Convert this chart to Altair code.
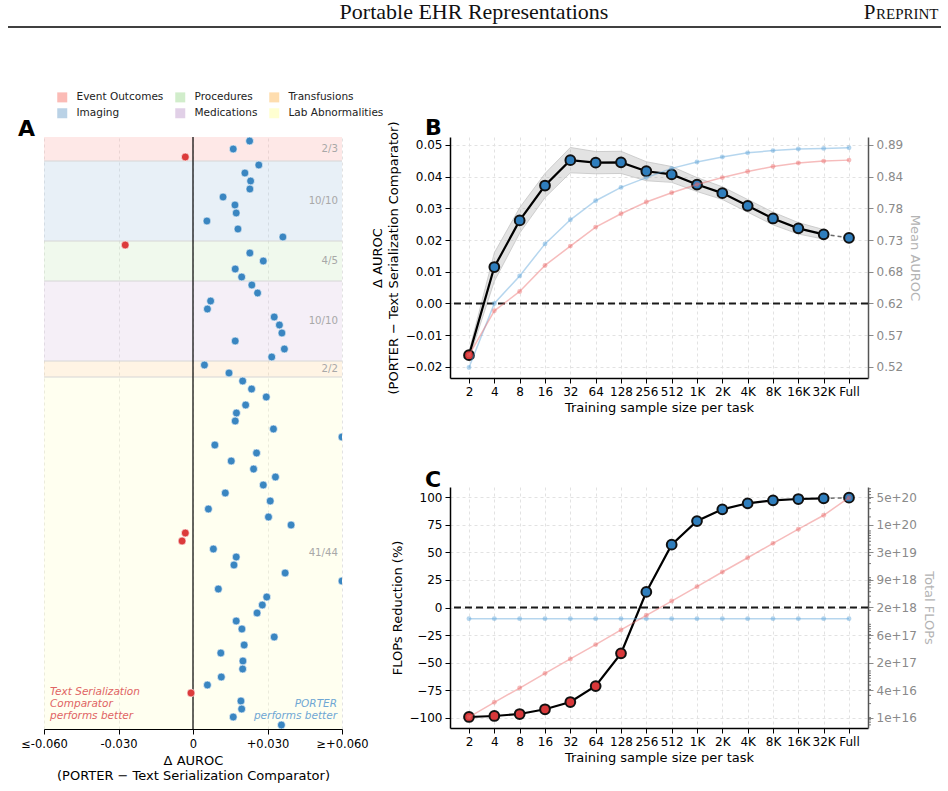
import altair as alt
import pandas as pd

FONT = "DejaVu Sans"

# ---------------- Panel A: per-task delta AUROC by category ----------------
categories = ["Event Outcomes", "Imaging", "Procedures", "Medications",
              "Transfusions", "Lab Abnormalities"]
category_colors = ["#fbb4ae", "#b3cde3", "#ccebc5", "#decbe4", "#fed9a6", "#ffffcc"]

delta_event_outcomes = [0.0228, 0.0162, -0.0031]
delta_imaging = [0.0265, 0.0209, 0.0232, 0.0229, 0.0121, 0.0169, 0.0174, 0.0056,
                 0.0181, 0.0362]
delta_procedures = [-0.0273, 0.0229, 0.0283, 0.0170, 0.0196]
delta_medications = [0.0237, 0.0260, 0.0071, 0.0058, 0.0327, 0.0348, 0.0358, 0.0170,
                     0.0368, 0.0317]
delta_transfusions = [0.0046, 0.0145]
delta_lab = [0.0200, 0.0236, 0.0295, 0.0212, 0.0175, 0.0170, 0.0324, 0.0720, 0.0088,
             0.0256, 0.0154, 0.0244, 0.0332, 0.0283, 0.0130, 0.0311, 0.0062, 0.0304,
             0.0395, -0.0031, -0.0044, 0.0082, 0.0174, 0.0165, 0.0371, 0.0680, 0.0102,
             0.0297, 0.0279, 0.0258, 0.0174, 0.0197, 0.0327, 0.0206, 0.0112, 0.0201,
             0.0200, 0.0114, 0.0058, -0.0008, 0.0193, 0.0196, 0.0162, 0.0356]
category_deltas = [delta_event_outcomes, delta_imaging, delta_procedures,
                   delta_medications, delta_transfusions, delta_lab]

a_ticks = [-0.06, -0.03, 0.0, 0.03, 0.06]
a_tick_labels = ["≤-0.060", "-0.030", "0", "+0.030", "≥+0.060"]

# ---------------- Panels B and C: sample-size sweep ----------------
sample_sizes = ["2", "4", "8", "16", "32", "64", "128", "256", "512",
                "1K", "2K", "4K", "8K", "16K", "32K", "Full"]
delta_auroc = [-0.0163, 0.0115, 0.0262, 0.0372, 0.0452, 0.0444, 0.0445, 0.0417,
               0.0407, 0.0375, 0.0348, 0.0308, 0.0268, 0.0237, 0.0218, 0.0207]
delta_auroc_lower = [-0.0175, 0.0070, 0.0222, 0.0334, 0.0412, 0.0409, 0.0410, 0.0387,
                     0.0382, 0.0353, 0.0328, 0.0288, 0.0248, 0.0219, 0.0203]
delta_auroc_upper = [-0.0151, 0.0160, 0.0302, 0.0410, 0.0492, 0.0479, 0.0480, 0.0447,
                     0.0432, 0.0397, 0.0368, 0.0328, 0.0288, 0.0255, 0.0233]
porter_mean_auroc = [0.5164, 0.6235, 0.6696, 0.7231, 0.7634, 0.7952, 0.8175, 0.8339,
                     0.8493, 0.8599, 0.8684, 0.8753, 0.8790, 0.8816, 0.8827, 0.8837]
text_mean_auroc = [0.5371, 0.6113, 0.6436, 0.6871, 0.7194, 0.7512, 0.7735, 0.7931,
                   0.8085, 0.8223, 0.8339, 0.8440, 0.8525, 0.8583, 0.8615, 0.8631]

flops_reduction = [-99.4, -98.5, -96.7, -92.4, -85.8, -71.3, -41.6, 14.1,
                   57.0, 78.5, 89.1, 94.6, 97.3, 98.5, 99.1, 99.7]
porter_total_flops = [1.32e18, 1.32e18, 1.32e18, 1.32e18, 1.32e18, 1.32e18, 1.32e18,
                      1.32e18, 1.32e18, 1.32e18, 1.32e18, 1.32e18, 1.32e18, 1.32e18,
                      1.32e18, 1.32e18]
text_total_flops = [1.03e16, 2.13e16, 4.31e16, 8.89e16, 1.81e17, 3.67e17, 7.57e17,
                    1.56e18, 3.15e18, 6.40e18, 1.32e19, 2.67e19, 5.42e19, 1.09e20,
                    2.17e20, 5.16e20]

# twin-axis alignment: mean AUROC = AUROC_0 + AUROC_SLOPE * delta
AUROC_0, AUROC_SLOPE = 0.6235, 5.3
b_left_ticks = [-0.02, -0.01, 0.0, 0.01, 0.02, 0.03, 0.04, 0.05]
b_domain = [-0.0235, 0.0525]
# twin-axis alignment: log10(FLOPs) = LOG_0 + LOG_SLOPE * (reduction + 100)
LOG_0, LOG_SLOPE = 16.0, 0.0236
c_left_ticks = [-100, -75, -50, -25, 0, 25, 50, 75, 100]
c_domain = [-109.4, 109.4]

BLUE_A, RED_A = "#3a86c1", "#dc3b3b"
BLUE, RED = "#2f7ebd", "#d8383a"
FAINT_BLUE, FAINT_RED = "#5da3d9", "#ea6a6a"
GRID = "#e2e2e2"

# ======================= Panel A =======================
WA, HA = 298, 592
task_rows, band_rows = [], []
start = 0
for cat, vals in zip(categories, category_deltas):
    for i, v in enumerate(vals):
        task_rows.append({"category": cat, "row": start + i + 0.5, "delta": v})
    n_better = sum(1 for v in vals if v > 0)
    band_rows.append({"category": cat, "top": start, "bottom": start + len(vals),
                      "mid": start + len(vals) / 2, "label": f"{n_better}/{len(vals)}"})
    start += len(vals)
n_rows = start
tasks_df = pd.DataFrame(task_rows)
bands_df = pd.DataFrame(band_rows)
one = pd.DataFrame({"k": [0]})

yA = alt.Scale(domain=[0, n_rows], reverse=True, nice=False, zero=False)
xA = alt.Scale(domain=[a_ticks[0], a_ticks[-1]], clamp=True, nice=False, zero=False)

label_expr = "''"
for v, lab in reversed(list(zip(a_ticks, a_tick_labels))):
    label_expr = f"abs(datum.value - ({v})) < 1e-9 ? '{lab}' : ({label_expr})"

axisA = alt.Axis(values=a_ticks, labelExpr=label_expr, labelFlush=False,
                 title=["Δ AUROC", "(PORTER − Text Serialization Comparator)"],
                 grid=True, gridDash=[3, 3], gridColor=GRID, domainColor="black",
                 domainWidth=1.2, tickColor="black", tickSize=5, labelFontSize=11.5,
                 titleFontSize=13, titleLineHeight=15, labelPadding=4, titlePadding=5)

canvas = alt.Chart(one).mark_rect(opacity=0).encode(
    x=alt.value(-44), x2=alt.value(904), y=alt.value(-137), y2=alt.value(654))

bands = alt.Chart(bands_df).mark_rect(opacity=0.3).encode(
    x=alt.value(0), x2=alt.value(WA),
    y=alt.Y("top:Q", scale=yA, axis=None), y2="bottom:Q",
    color=alt.Color("category:N",
                    scale=alt.Scale(domain=categories, range=category_colors),
                    legend=alt.Legend(orient="none", legendX=13, legendY=-45, columns=3,
                                      title=None, symbolType="square", symbolSize=100,
                                      symbolOpacity=0.9, symbolStrokeWidth=0,
                                      labelFontSize=10.5, labelFont=FONT,
                                      labelColor="#222", columnPadding=11, rowPadding=5,
                                      labelOffset=9, padding=0)))

separators = alt.Chart(bands_df).transform_filter("datum.top > 0").mark_rule(
    color="#d6d6d6", strokeWidth=1).encode(
    x=alt.value(0), x2=alt.value(WA), y=alt.Y("top:Q", scale=yA, axis=None))

zero_a = alt.Chart(one).mark_rule(color="black", strokeWidth=1.2).encode(
    x=alt.X(datum=0, scale=xA, axis=axisA))

points_a = alt.Chart(tasks_df).mark_circle(size=62, opacity=1, stroke="white",
                                           strokeWidth=0.6, clip=True).encode(
    x=alt.X("delta:Q", scale=xA, axis=axisA),
    y=alt.Y("row:Q", scale=yA, axis=None),
    color=alt.condition("datum.delta < 0", alt.value(RED_A), alt.value(BLUE_A)))

band_labels = alt.Chart(bands_df).mark_text(align="right", baseline="middle",
                                            fontSize=10.2, color="#a8a8a8", font=FONT).encode(
    x=alt.value(WA - 4), y=alt.Y("mid:Q", scale=yA, axis=None), text="label:N")

note_left = alt.Chart(one).mark_text(
    align="left", baseline="middle", fontSize=10.5, fontStyle="italic", font=FONT,
    color="#e06464", lineBreak="\n", lineHeight=11.8).encode(
    x=alt.value(6), y=alt.value(555),
    text=alt.value("Text Serialization\nComparator\nperforms better"))
note_right = alt.Chart(one).mark_text(
    align="right", baseline="middle", fontSize=10.5, fontStyle="italic", font=FONT,
    color="#6fa7d4", lineBreak="\n", lineHeight=11.8).encode(
    x=alt.value(293), y=alt.value(567),
    text=alt.value("PORTER\nperforms better"))

letter_a = alt.Chart(one).mark_text(align="left", baseline="alphabetic", fontSize=22,
                                    fontWeight="bold", font=FONT, color="black").encode(
    x=alt.value(-26), y=alt.value(-1), text=alt.value("A"))

# running page header
header_title = alt.Chart(one).mark_text(align="center", baseline="alphabetic",
                                        fontSize=22, font="Liberation Serif",
                                        color="#111").encode(
    x=alt.value(430), y=alt.value(-118), text=alt.value("Portable EHR Representations"))
header_p = alt.Chart(one).mark_text(align="right", baseline="alphabetic", fontSize=21,
                                    font="Liberation Serif", color="#111").encode(
    x=alt.value(831.5), y=alt.value(-118), text=alt.value("P"))
header_rest = alt.Chart(one).mark_text(align="left", baseline="alphabetic", fontSize=15,
                                       font="Liberation Serif", color="#111").encode(
    x=alt.value(832), y=alt.value(-118), text=alt.value("REPRINT"))
header_rule = alt.Chart(one).mark_rule(color="black", strokeWidth=1.3).encode(
    x=alt.value(-36), x2=alt.value(897), y=alt.value(-110))

panel_a = alt.layer(canvas, bands, separators, zero_a, points_a, band_labels,
                    note_left, note_right, letter_a, header_title, header_p,
                    header_rest, header_rule).properties(width=WA, height=HA)

# ======================= Panels B and C =======================
WB, HB = 418, 241
x_scale = alt.Scale(type="point", domain=sample_sizes, padding=0.75)
axis_x = alt.Axis(title="Training sample size per task", labelAngle=0, grid=True,
                  gridDash=[3, 3], gridColor=GRID, tickColor="black", domainColor="black",
                  domainWidth=1.5, tickSize=5, labelFontSize=12, titleFontSize=13,
                  labelPadding=3, titlePadding=4, labelOverlap=False)


def x_enc():
    return alt.X("size:N", scale=x_scale, axis=axis_x)


def sweep_df(**cols):
    d = pd.DataFrame({"size": sample_sizes[:len(next(iter(cols.values())))], **cols})
    d["idx"] = range(len(d))
    return d


def left_axis(values, fmt, title):
    return alt.Axis(values=values, format=fmt, title=title, orient="left", grid=True,
                    gridDash=[3, 3], gridColor=GRID, tickColor="black",
                    domainColor="black", domainWidth=1.5, tickSize=5, labelFontSize=12,
                    titleFontSize=13, titleLineHeight=16, labelPadding=3, titlePadding=5)


def right_axis(values, fmt, title):
    return alt.Axis(values=values, format=fmt, title=title, orient="right", grid=False,
                    tickColor="#8a8a8a", domainColor="#555555", domainWidth=1.5,
                    tickSize=5, labelColor="#8a8a8a", labelFontSize=12,
                    titleColor="#b3b3b3", titleFontSize=13, labelPadding=3,
                    titlePadding=5)


def main_series(df, field, y_scale, y_axis):
    y = alt.Y(f"{field}:Q", scale=y_scale, axis=y_axis)
    solid = alt.Chart(df).transform_filter(f"datum.idx <= {len(sample_sizes) - 2}").mark_line(
        color="black", strokeWidth=2.2).encode(x=x_enc(), y=y)
    tail = alt.Chart(df).transform_filter(f"datum.idx >= {len(sample_sizes) - 2}").mark_line(
        color="#6a6a6a", strokeWidth=1.5, strokeDash=[4, 3]).encode(x=x_enc(), y=y)
    pts = alt.Chart(df).mark_circle(size=95, opacity=1, stroke="#111111",
                                    strokeWidth=2).encode(
        x=x_enc(), y=y,
        fill=alt.condition(f"datum.{field} < 0", alt.value(RED), alt.value(BLUE)))
    return solid, tail, pts


def faint_series(df, field, y_scale, y_axis, color):
    y = alt.Y(f"{field}:Q", scale=y_scale, axis=y_axis)
    line = alt.Chart(df).mark_line(color=color, strokeWidth=1.5, opacity=0.45).encode(
        x=x_enc(), y=y)
    pts = alt.Chart(df).mark_circle(color=color, size=24, opacity=0.45).encode(
        x=x_enc(), y=y)
    return line, pts


def panel_letter(letter, y):
    return alt.Chart(one).mark_text(align="left", baseline="alphabetic", fontSize=22,
                                    fontWeight="bold", font=FONT, color="black").encode(
        x=alt.value(-25), y=alt.value(y), text=alt.value(letter))


# ---- Panel B ----
yBL = alt.Scale(domain=b_domain, nice=False, zero=False)
yBR = alt.Scale(domain=[AUROC_0 + AUROC_SLOPE * b_domain[0],
                        AUROC_0 + AUROC_SLOPE * b_domain[1]], nice=False, zero=False)
axisBL = left_axis(b_left_ticks, ".2f",
                   ["Δ AUROC", "(PORTER − Text Serialization Comparator)"])
axisBR = right_axis([AUROC_0 + AUROC_SLOPE * v for v in b_left_ticks], ".2f",
                    "Mean AUROC")

b_main = sweep_df(delta=delta_auroc)
b_ci = sweep_df(lower=delta_auroc_lower, upper=delta_auroc_upper)
b_porter = sweep_df(auroc=porter_mean_auroc)
b_text = sweep_df(auroc=text_mean_auroc)

ci_area = alt.Chart(b_ci).mark_area(color="#9a9a9a", opacity=0.28).encode(
    x=x_enc(), y=alt.Y("lower:Q", scale=yBL, axis=axisBL), y2="upper:Q")
ci_hi = alt.Chart(b_ci).mark_line(color="#c4c4c4", strokeWidth=0.8).encode(
    x=x_enc(), y=alt.Y("upper:Q", scale=yBL, axis=axisBL))
ci_lo = alt.Chart(b_ci).mark_line(color="#c4c4c4", strokeWidth=0.8).encode(
    x=x_enc(), y=alt.Y("lower:Q", scale=yBL, axis=axisBL))
zero_b = alt.Chart(one).mark_rule(color="#1a1a1a", strokeWidth=2,
                                  strokeDash=[7, 4]).encode(
    y=alt.Y(datum=0, scale=yBL, axis=axisBL))
b_solid, b_tail, b_pts = main_series(b_main, "delta", yBL, axisBL)
b_left = alt.layer(ci_area, ci_hi, ci_lo, zero_b, b_solid, b_tail, b_pts,
                   panel_letter("B", -2))
bp_line, bp_pts = faint_series(b_porter, "auroc", yBR, axisBR, FAINT_BLUE)
bt_line, bt_pts = faint_series(b_text, "auroc", yBR, axisBR, FAINT_RED)
b_right = alt.layer(bp_line, bp_pts, bt_line, bt_pts)
panel_b = alt.layer(b_left, b_right).resolve_scale(y="independent").properties(
    width=WB, height=HB)

# ---- Panel C ----
yCL = alt.Scale(domain=c_domain, nice=False, zero=False)
yCR = alt.Scale(type="log", domain=[10 ** (LOG_0 + LOG_SLOPE * (c_domain[0] + 100)),
                                    10 ** (LOG_0 + LOG_SLOPE * (c_domain[1] + 100))],
                nice=False)
axisCL = left_axis(c_left_ticks, "d", "FLOPs Reduction (%)")
axisCR = right_axis([10 ** (LOG_0 + LOG_SLOPE * (v + 100)) for v in c_left_ticks],
                    ".0e", "Total FLOPs")

c_main = sweep_df(reduction=flops_reduction)
c_porter = sweep_df(flops=porter_total_flops)
c_text = sweep_df(flops=text_total_flops)
lo_f, hi_f = yCR.domain
minor_df = pd.DataFrame({"flops": [d * 10.0 ** e for e in range(15, 22) for d in range(1, 10)
                                   if lo_f <= d * 10.0 ** e <= hi_f]})

zero_c = alt.Chart(one).mark_rule(color="#1a1a1a", strokeWidth=2,
                                  strokeDash=[7, 4]).encode(
    y=alt.Y(datum=0, scale=yCL, axis=axisCL))
c_solid, c_tail, c_pts = main_series(c_main, "reduction", yCL, axisCL)
c_left = alt.layer(zero_c, c_solid, c_tail, c_pts, panel_letter("C", 0))
cp_line, cp_pts = faint_series(c_porter, "flops", yCR, axisCR, FAINT_BLUE)
ct_line, ct_pts = faint_series(c_text, "flops", yCR, axisCR, FAINT_RED)
minor_ticks = alt.Chart(minor_df).mark_rule(color="#555555", strokeWidth=0.8).encode(
    x=alt.value(WB), x2=alt.value(WB + 3),
    y=alt.Y("flops:Q", scale=yCR, axis=axisCR))
c_right = alt.layer(cp_line, cp_pts, ct_line, ct_pts, minor_ticks)
panel_c = alt.layer(c_left, c_right).resolve_scale(y="independent").properties(
    width=WB, height=HB)

chart = alt.hconcat(
    panel_a,
    alt.vconcat(panel_b, panel_c, spacing=109, bounds="flush"),
    spacing=108, bounds="flush", padding=0,
).configure(font=FONT).configure_view(stroke=None).configure_axis(
    labelFont=FONT, titleFont=FONT, titleFontWeight="normal",
    labelColor="black", titleColor="black")

chart.save("out.html", embed_options={"renderer": "svg", "actions": False})
